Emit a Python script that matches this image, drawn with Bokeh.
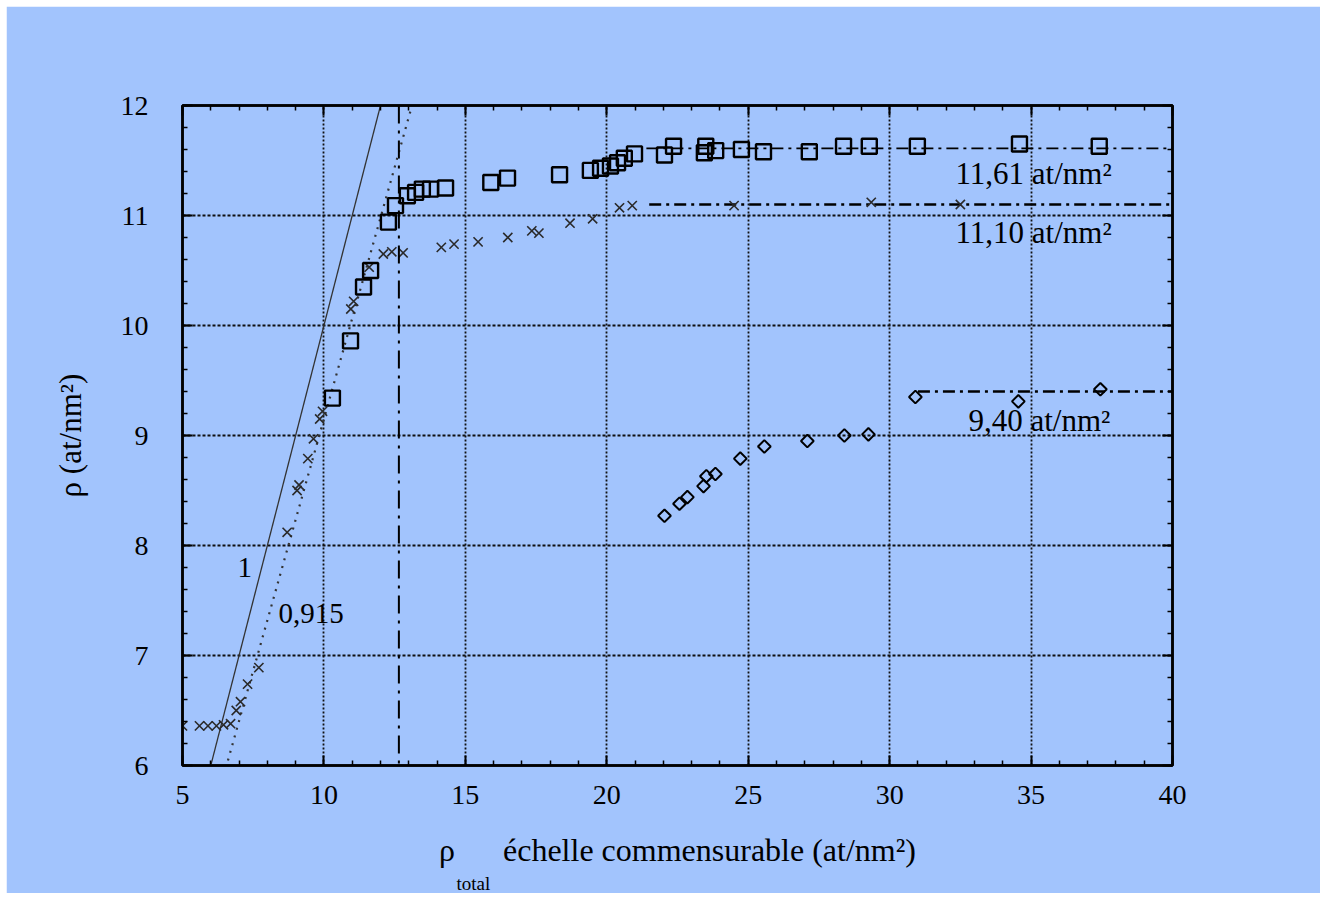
import numpy as np
from bokeh.plotting import figure
from bokeh.models import (Range1d, LinearAxis, Label, SingleIntervalTicker, Span,
                          CustomJSTickFormatter, Title)
from bokeh.embed import file_html
from bokeh.resources import INLINE

# ---------------- data ----------------
sq_x = [10.3, 10.94, 11.4, 11.65, 12.28, 12.53, 12.95, 13.24, 13.48, 13.77, 14.3,
        15.9, 16.49, 18.33, 19.42, 19.78, 20.13, 20.38, 20.62, 20.98, 22.04, 22.36,
        23.45, 23.5, 23.85, 24.76, 25.54, 27.16, 28.37, 29.28, 30.98, 34.59, 37.41]
sq_y = [9.34, 9.86, 10.35, 10.5, 10.94, 11.09, 11.18, 11.21, 11.24, 11.24, 11.25,
        11.30, 11.34, 11.37, 11.41, 11.43, 11.45, 11.48, 11.52, 11.56, 11.55, 11.63,
        11.57, 11.63, 11.59, 11.60, 11.58, 11.58, 11.63, 11.63, 11.63, 11.65, 11.63]

cr_x = [5.0, 5.6, 5.9, 6.2, 6.45, 6.7, 6.9, 7.05, 7.3, 7.7, 8.7, 9.05, 9.12, 9.43,
        9.63, 9.85, 9.95, 10.95, 11.05, 11.6, 12.1, 12.4, 12.8, 14.15, 14.6, 15.45,
        16.5, 17.35, 17.6, 18.7, 19.5, 20.45, 20.9, 24.5, 29.35, 32.5]
cr_y = [6.36, 6.36, 6.36, 6.36, 6.37, 6.38, 6.5, 6.58, 6.74, 6.89, 8.12, 8.50, 8.55,
        8.79, 8.97, 9.15, 9.22, 10.15, 10.22, 10.53, 10.65, 10.67, 10.66, 10.71, 10.74,
        10.76, 10.80, 10.86, 10.84, 10.93, 10.97, 11.07, 11.09, 11.09, 11.12, 11.10]

di_x = [22.04, 22.57, 22.85, 23.42, 23.52, 23.84, 24.72, 25.57, 27.09, 28.40, 29.25,
        30.91, 34.55, 37.45]
di_y = [8.27, 8.38, 8.44, 8.54, 8.63, 8.65, 8.79, 8.90, 8.95, 9.00, 9.01, 9.35, 9.31, 9.42]

slopes = [1.0, 0.915]
slope_labels = ["1", "0,915"]
x_cross = 12.65
levels = [11.61, 11.10, 9.40]
level_starts = [21.4, 21.5, 31.0]
level_labels = ["11,61 at/nm\u00b2", "11,10 at/nm\u00b2", "9,40 at/nm\u00b2"]

x_title_symbol = "\u03c1"
x_title_sub = "total"
x_title_main = "\u00e9chelle commensurable (at/nm\u00b2)"
y_title = "\u03c1 (at/nm\u00b2)"

# ---------------- style ----------------
BG = "#a2c4fd"
FONT = "Liberation Serif"
XMIN, XMAX, YMIN, YMAX = 5, 40, 6, 12

# pixel helpers (frame: left 182, right 1172, top 105, bottom 765 in page px)
def px2x(px):
    return XMIN + (px - 182) * (XMAX - XMIN) / (1172 - 182)

def px2y(py):
    return YMIN + (765 - py) * (YMAX - YMIN) / (765 - 105)

p = figure(width=1314, height=887, output_backend="svg", toolbar_location=None,
           x_range=Range1d(XMIN, XMAX), y_range=Range1d(YMIN, YMAX),
           min_border_left=176, min_border_right=148, min_border_top=99,
           min_border_bottom=128, background_fill_color=BG, border_fill_color=BG,
           margin=(6, 6, 6, 6))
p.outline_line_color = "black"
p.outline_line_width = 2.5

xt = SingleIntervalTicker(interval=5, num_minor_ticks=5)
yt = SingleIntervalTicker(interval=1, num_minor_ticks=5)
bottom = p.xaxis[0]
left = p.yaxis[0]
bottom.ticker = xt
left.ticker = yt

blank = CustomJSTickFormatter(code="return '';")
top = LinearAxis(ticker=xt, formatter=blank)
right = LinearAxis(ticker=yt, formatter=blank)
p.add_layout(top, "above")
p.add_layout(right, "right")

for ax in [bottom, left, top, right]:
    ax.axis_line_width = 2.5
    ax.axis_line_color = "black"
    ax.major_tick_in = 10
    ax.major_tick_out = 0
    ax.minor_tick_in = 5
    ax.minor_tick_out = 0
    ax.major_tick_line_width = 2
    ax.minor_tick_line_width = 1.5
    ax.major_tick_line_color = "black"
    ax.minor_tick_line_color = "black"
    ax.major_label_text_font = FONT
    ax.major_label_text_color = "black"

bottom.major_label_text_font_size = "28px"
left.major_label_text_font_size = "28px"
bottom.major_label_standoff = 20
left.major_label_standoff = 34

# axis titles
nbsp = "\u00a0"
bottom.axis_label = x_title_symbol + nbsp * 6 + x_title_main
bottom.axis_label_text_font = FONT
bottom.axis_label_text_font_size = "32px"
bottom.axis_label_text_font_style = "normal"
bottom.axis_label_text_color = "black"
bottom.axis_label_standoff = 25

left.axis_label = y_title
left.axis_label_text_font = FONT
left.axis_label_text_font_size = "31px"
left.axis_label_text_font_style = "normal"
left.axis_label_text_color = "black"
left.axis_label_standoff = 30

p.add_layout(Title(text=x_title_sub, align="left", offset=274, text_font=FONT,
                   text_font_size="19px", text_font_style="normal",
                   text_color="black", standoff=0), "below")

p.xgrid.grid_line_color = "#111111"
p.xgrid.grid_line_dash = "2 2"
p.xgrid.grid_line_width = 1.8
p.ygrid.grid_line_color = "#111111"
p.ygrid.grid_line_dash = "3 2"
p.ygrid.grid_line_width = 2.2

# slope lines
xs = np.array([XMIN, XMAX], dtype=float)
p.line(xs, slopes[0] * xs, line_color="#333333", line_width=1.3)
p.line(xs, slopes[1] * xs, line_color="#333333", line_width=2.2, line_dash="2 6")

# vertical dash-dot line
p.add_layout(Span(location=x_cross, dimension="height", line_color="black",
                  line_width=2, line_dash="18 7 3 7"))

# level lines
lw = [1.6, 2.6, 2.4]
for lv, st, w in zip(levels, level_starts, lw):
    p.line([st, XMAX], [lv, lv], line_color="black", line_width=w, line_dash="12 5 3 5")

# markers
p.scatter(cr_x, cr_y, marker="x", size=13, line_color="#2a2a2a", line_width=1.6)
p.scatter(sq_x, sq_y, marker="square", size=15, fill_color=None,
          line_color="black", line_width=2.4)
p.scatter(di_x, di_y, marker="square", angle=np.pi / 4, size=9, fill_color=None,
          line_color="black", line_width=2)

# annotations
for txt, py in zip(level_labels, [173, 232, 420]):
    left_px = 968 if txt.startswith("9") else 955
    p.add_layout(Label(x=px2x(left_px), y=px2y(py), text=txt, text_font=FONT,
                       text_font_size="31px", text_color="black",
                       text_baseline="alphabetic", text_align="left"))

p.add_layout(Label(x=px2x(237), y=px2y(567), text=slope_labels[0], text_font=FONT,
                   text_font_size="29px", text_color="black", text_baseline="alphabetic"))
p.add_layout(Label(x=px2x(278), y=px2y(613), text=slope_labels[1], text_font=FONT,
                   text_font_size="29px", text_color="black", text_baseline="alphabetic"))

open("out.html", "w").write(file_html(p, INLINE))
